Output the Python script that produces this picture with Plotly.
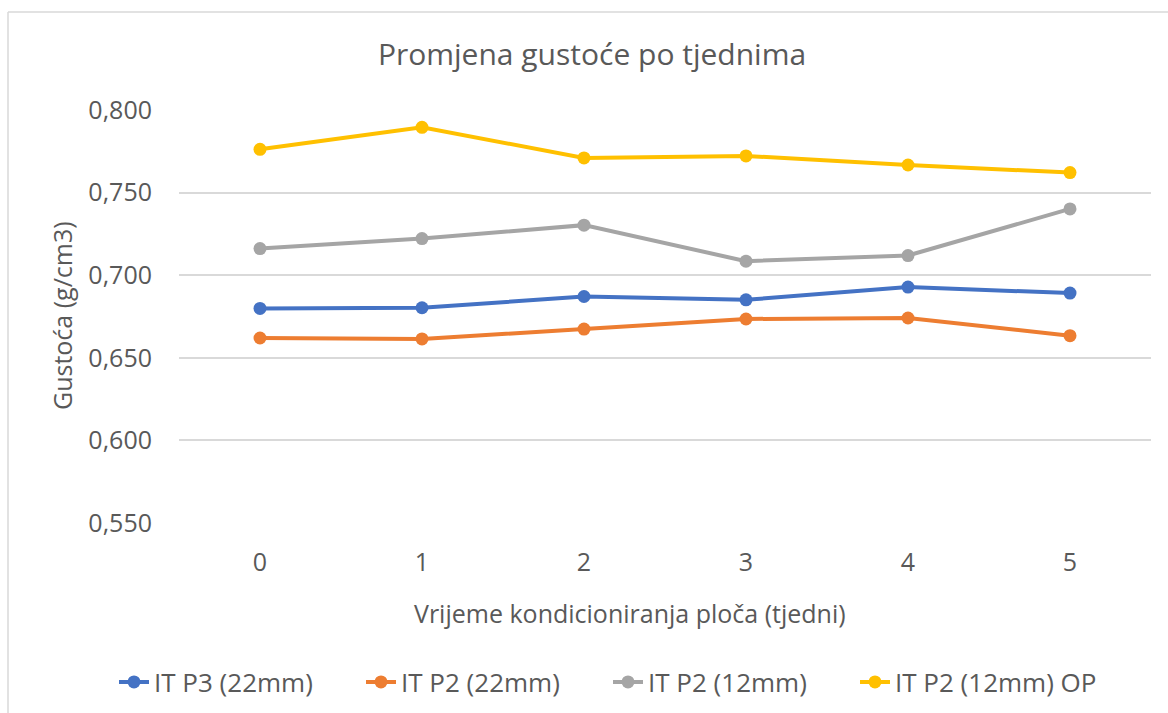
import plotly.graph_objects as go

weeks = ["0", "1", "2", "3", "4", "5"]
it_p3_22 = [0.6799, 0.6803, 0.6871, 0.6851, 0.6928, 0.6892]
it_p2_22 = [0.6620, 0.6614, 0.6674, 0.6735, 0.6741, 0.6634]
it_p2_12 = [0.7161, 0.7222, 0.7303, 0.7085, 0.7119, 0.7401]
it_p2_12_op = [0.7762, 0.7895, 0.7710, 0.7722, 0.7667, 0.7621]

series_names = ["IT P3 (22mm)", "IT P2 (22mm)", "IT P2 (12mm)", "IT P2 (12mm) OP"]
series_vals = [it_p3_22, it_p2_22, it_p2_12, it_p2_12_op]
colors = ["#4472C4", "#ED7D31", "#A5A5A5", "#FFC000"]

FONT = "Open Sans"
TXT = "#595959"

fig = go.Figure()
for name, vals, c in zip(series_names, series_vals, colors):
    fig.add_trace(go.Scatter(
        x=weeks, y=vals, name=name, mode="lines+markers",
        line=dict(color=c, width=4),
        marker=dict(color=c, size=13),
    ))

W, H = 1168, 713
L, R, T, B = 179, 1151, 110, 523
pw, ph = R - L, B - T

fig.update_layout(
    width=W, height=H,
    margin=dict(l=L, r=W - R, t=T, b=H - B, autoexpand=False),
    paper_bgcolor="white", plot_bgcolor="white",
    separators=",.",
    font=dict(family=FONT, color=TXT, size=25),
    title=dict(text="Promjena gustoće po tjednima", font=dict(size=30, color=TXT, family=FONT),
               xref="container", yref="container", x=592 / W, y=1 - 54 / H,
               xanchor="center", yanchor="middle", pad=dict(t=0, b=0, l=0, r=0)),
    showlegend=True,
    legend=dict(orientation="h", x=(114 - L) / pw, y=(B - 682) / ph,
                xanchor="left", yanchor="middle", font=dict(size=26, color=TXT, family=FONT),
                entrywidth=202, entrywidthmode="pixels", tracegroupgap=0,
                bgcolor="rgba(0,0,0,0)"),
    xaxis=dict(type="category", range=[-0.5, 5.5], showgrid=False, zeroline=False, showline=False,
               ticks="", ticklabelstandoff=22, tickfont=dict(size=25, color=TXT)),
    yaxis=dict(range=[0.55, 0.80], dtick=0.05, tick0=0.55, tickformat=".3f",
               showgrid=True, gridcolor="#D9D9D9", gridwidth=1.5, zeroline=False,
               showline=False, ticks="", ticklabelstandoff=26, tickfont=dict(size=25, color=TXT)),
    annotations=[
        dict(text="Vrijeme kondicioniranja ploča (tjedni)", xref="paper", yref="paper",
             x=(630 - L) / pw, y=(B - 613) / ph, xanchor="center", yanchor="middle",
             showarrow=False, font=dict(size=25, color=TXT, family=FONT)),
        dict(text="Gustoća (g/cm3)", xref="paper", yref="paper", textangle=-90,
             x=(62 - L) / pw, y=(B - 316) / ph, xanchor="center", yanchor="middle",
             showarrow=False, font=dict(size=25, color=TXT, family=FONT)),
    ],
    shapes=[
        dict(type="line", xref="paper", yref="paper", x0=(8 - L) / pw, x1=(1200 - L) / pw,
             y0=(B - 12) / ph, y1=(B - 12) / ph, line=dict(color="#D9D9D9", width=1.5)),
        dict(type="line", xref="paper", yref="paper", x0=(8 - L) / pw, x1=(8 - L) / pw,
             y0=(B - 12) / ph, y1=(B - 760) / ph, line=dict(color="#D9D9D9", width=1.5)),
    ],
)

fig.write_html("out.html", config={"displayModeBar": False},
               post_script="document.body.style.margin='0px';")
